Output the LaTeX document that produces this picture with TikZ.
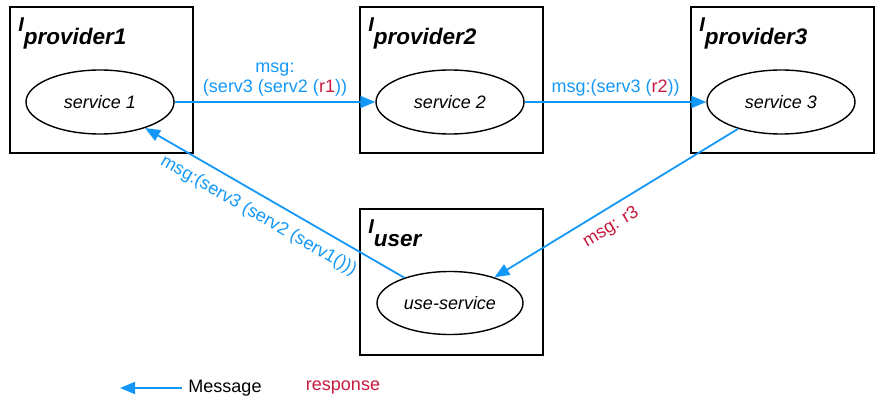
\documentclass[tikz,border=0pt]{standalone}
\usepackage{fontspec}
\setmainfont{Liberation Sans}
\usepackage{tikz}
\usetikzlibrary{shapes.geometric,arrows.meta}
\definecolor{msgblue}{RGB}{20,152,248}
\definecolor{resp}{RGB}{200,25,62}
\newcommand{\ifacename}[1]{{\fontsize{20}{20}\selectfont I}\raisebox{-13pt}{#1}}

\begin{document}
\begin{tikzpicture}[x=1pt,y=1pt]
	\tikzstyle{provider}=[draw=black,line width=1.8pt,minimum width=183pt,minimum height=146pt,inner sep=0pt]
	\tikzstyle{service}=[ellipse,draw=black,line width=1.4pt,minimum width=148pt,minimum height=64pt,inner sep=0pt,font=\fontsize{18}{18}\selectfont\itshape]
	\tikzstyle{title}=[anchor=base west,inner sep=0pt,font=\fontsize{22.5}{22.5}\selectfont\bfseries\itshape]
	\tikzstyle{msg}=[draw=msgblue,line width=1.8pt,-{Triangle[length=15pt,width=12pt]}]
	\tikzstyle{msglabel}=[text=msgblue,font=\fontsize{18}{20}\selectfont,align=center]
	\useasboundingbox (0,0) rectangle (875,402);
	\node[provider](p1) at (101.5,322) {};
	\node[provider](p2) at (451.5,322) {};
	\node[provider](p3) at (782.5,322) {};
	\node[provider](pu) at (451.5,120) {};
	\node[title] at ([shift={(9,-25)}]p1.north west) {\ifacename{provider1}};
	\node[title] at ([shift={(9,-25)}]p2.north west) {\ifacename{provider2}};
	\node[title] at ([shift={(9,-25)}]p3.north west) {\ifacename{provider3}};
	\node[title] at ([shift={(9,-25)}]pu.north west) {\ifacename{user}};
	\node[service](s1) at (100,300) {service 1};
	\node[service](s2) at (450,300) {service 2};
	\node[service](s3) at (781,300) {service 3};
	\node[service,minimum width=146pt,minimum height=63pt](su) at (450,99) {use-service};
	\draw[msg](s1) -- node[msglabel,above,inner sep=5pt]{msg:\\(serv3 (serv2 (\textcolor{resp}{r1}))} (s2);
	\draw[msg](s2) -- node[msglabel,above,inner sep=5pt]{msg:(serv3 (\textcolor{resp}{r2}))} (s3);
	\draw[msg](s3.212) -- node[msglabel,text=resp,sloped,below,pos=0.56,inner sep=9pt]{msg: r3} (su.30);
	\draw[msg](su.151) -- node[msglabel,sloped,below,pos=0.525,inner sep=10pt]{msg:(serv3 (serv2 (serv1()))} (s1.-30);
	% legend
	\node[msglabel,text=black](lmsg) at (225,14) {Message};
	\node[msglabel,text=resp](lresp) at (343,14) {response};
	\coordinate (ltip) at (120,14);
	\draw[msg]([xshift=-3pt]lmsg.west) -- (ltip);
\end{tikzpicture}
\end{document}
